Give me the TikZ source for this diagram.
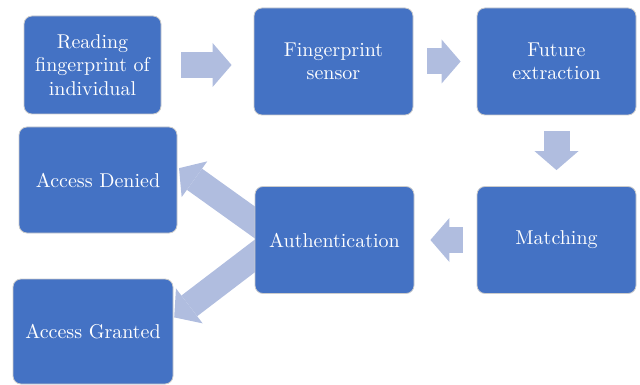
\documentclass[tikz,border=0pt]{standalone}
\usepackage{fontspec}
\setmainfont{lmroman10-regular}[Extension=.otf]
\usetikzlibrary{arrows.meta,backgrounds}
\definecolor{boxblue}{HTML}{4472C4}
\definecolor{arrowblue}{HTML}{B0BDDF}
\begin{document}
\begin{tikzpicture}[
    x=1pt, y=-1pt,
    stage/.style={rectangle, draw=white!80!black, line width=0.8pt, fill=boxblue, rounded corners=8pt, text=white, align=center, font=\fontsize{20}{23.5}\selectfont, inner sep=0pt, minimum width=159pt, minimum height=107pt},
    bigarrow/.style={draw=arrowblue, line width=26pt, -{Triangle[length=19pt, width=44pt, line width=0pt]}}
]
    \useasboundingbox (0,0) rectangle (640,385);

    % Top row
    \node[stage, minimum width=137pt, minimum height=98pt] (read) at (92.5,65) {Reading\\fingerprint of\\individual};
    \node[stage] (sensor) at (333.5,61.5) {Fingerprint\\sensor};
    \node[stage] (extract) at (556.5,61.5) {Future\\extraction};

    % Middle row
    \node[stage] (match) at (556.5,240) {Matching};
    \node[stage] (auth) at (334.5,240) {Authentication};

    % Outcome nodes
    \node[stage, minimum width=158pt, minimum height=106pt] (denied) at (98,180) {Access Denied};
    \node[stage, minimum width=160pt, minimum height=105pt] (granted) at (93,331.5) {Access Granted};

    % Block arrows
    \draw[bigarrow, shorten <=20pt, shorten >=22pt] (read.east) -- (read.east -| sensor.west);
    \draw[bigarrow, shorten <=14pt, shorten >=16pt] (sensor) -- (extract);
    \draw[bigarrow, shorten <=16pt, shorten >=16pt] (extract) -- (match);
    \draw[bigarrow, shorten <=14pt, shorten >=16pt] (match) -- (auth);
    \begin{scope}[on background layer]
        \draw[bigarrow, shorten >=2pt] ([xshift=8pt,yshift=12pt]auth.west) -- ([yshift=13pt]denied.east);
        \draw[bigarrow, shorten >=1pt] ([xshift=8pt,yshift=-10pt]auth.west) -- ([yshift=13.5pt]granted.east);
    \end{scope}
\end{tikzpicture}
\end{document}
